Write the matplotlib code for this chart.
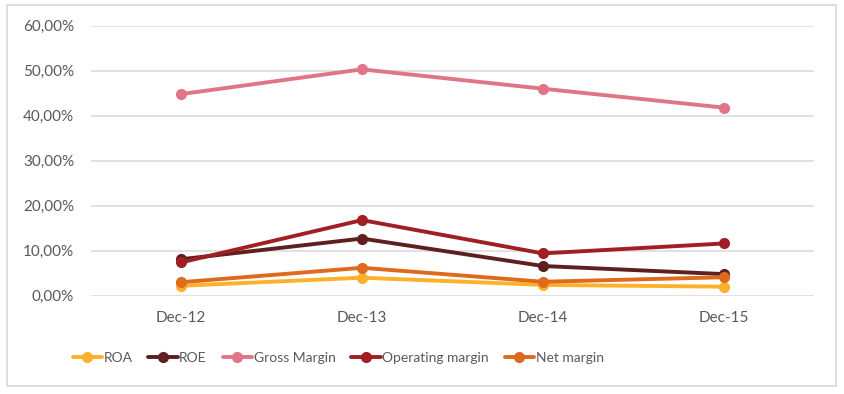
import matplotlib.pyplot as plt
from matplotlib.ticker import FuncFormatter
from matplotlib.patches import Rectangle

# data (fractions)
periods = ["Dec-12", "Dec-13", "Dec-14", "Dec-15"]
roa = [0.022, 0.040, 0.024, 0.020]
roe = [0.081, 0.127, 0.066, 0.048]
gross_margin = [0.448, 0.503, 0.460, 0.418]
operating_margin = [0.074, 0.168, 0.094, 0.116]
net_margin = [0.030, 0.062, 0.031, 0.041]

series = [
    ("ROA", roa, "#FDB12A"),
    ("ROE", roe, "#5E1F1F"),
    ("Gross Margin", gross_margin, "#E07588"),
    ("Operating margin", operating_margin, "#A01F24"),
    ("Net margin", net_margin, "#DE6A1D"),
]

plt.rcParams["font.family"] = ["Lato", "DejaVu Sans"]

fig = plt.figure(figsize=(8.44, 3.94), dpi=100)
ax = fig.add_axes([0.1075, 0.2495, 0.857, 0.6853])

x = range(len(periods))
for name, vals, color in series:
    ax.plot(x, vals, color=color, lw=2.8, marker="o", markersize=7,
            label=name, solid_capstyle="round")

ax.set_xlim(-0.5, len(periods) - 0.5)
ax.set_ylim(0, 0.6)
ax.set_yticks([0, 0.1, 0.2, 0.3, 0.4, 0.5, 0.6])
ax.yaxis.set_major_formatter(FuncFormatter(lambda v, p: f"{v * 100:.2f}%".replace(".", ",")))
ax.set_xticks(list(x))
ax.set_xticklabels(periods)

ax.grid(axis="y", color="#D9D9D9", lw=1.1)
ax.set_axisbelow(True)
for s in ax.spines.values():
    s.set_visible(False)
ax.tick_params(length=0, labelsize=11, colors="#595959")
ax.tick_params(axis="y", pad=12)
ax.tick_params(axis="x", pad=11)

leg = fig.legend(loc="center left", bbox_to_anchor=(0.086, 0.092), ncol=5, frameon=False,
                 fontsize=10, handlelength=2.1, handletextpad=0.12, columnspacing=1.15,
                 borderaxespad=0, borderpad=0)
for t in leg.get_texts():
    t.set_color("#595959")

# outer chart border
fig.patches.append(Rectangle((0.008, 0.02), 0.982, 0.968, transform=fig.transFigure,
                             fill=False, edgecolor="#D9D9D9", lw=1.2))

plt.savefig("out.png", dpi=100)
